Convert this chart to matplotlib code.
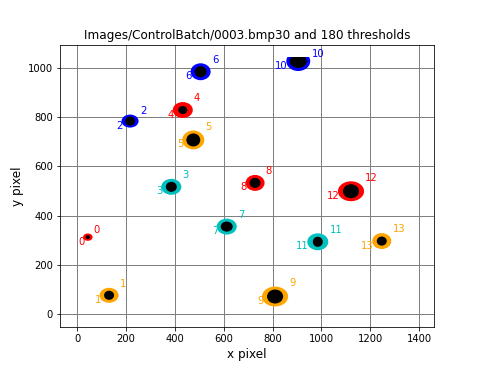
import matplotlib
matplotlib.use("Agg")
import matplotlib.pyplot as plt
from matplotlib.patches import Ellipse, Rectangle

# Blob data (data units: image pixels)
blob_ids = [0, 1, 2, 3, 4, 5, 6, 7, 8, 9, 10, 11, 12, 13]
center_x = [43, 130, 216, 385, 432, 475, 505, 612, 728, 810, 905, 985, 1121, 1247]
center_y = [312, 75, 785, 517, 830, 708, 986, 355, 533, 70, 1029, 293, 499, 296]
outer_w = [39, 78, 70, 82, 82, 90, 82, 82, 78, 107, 98, 86, 107, 78]
outer_h = [30, 61, 53, 65, 65, 77, 69, 65, 65, 81, 80, 69, 81, 65]
inner_w = [18, 41, 41, 45, 37, 57, 49, 49, 45, 66, 70, 41, 66, 41]
inner_h = [16, 37, 37, 41, 33, 53, 45, 41, 41, 57, 55, 41, 57, 37]
image_top = 1045
palette = ['red', 'orange', 'blue', 'c']

title = "Images/ControlBatch/0003.bmp30 and 180 thresholds"
x_ticks = [0, 200, 400, 600, 800, 1000, 1200, 1400]
y_ticks = [0, 200, 400, 600, 800, 1000]

W, H = 482, 374
fig = plt.figure(figsize=(W / 72, H / 72), dpi=72)
ax = fig.add_axes([60 / W, (H - 326.7) / H, (434 - 60) / W, (326.7 - 45) / H])

clip = Rectangle((-1000, -1000), 4000, image_top + 1000, transform=ax.transData)

for i, b in enumerate(blob_ids):
    col = palette[i % len(palette)]
    e1 = Ellipse((center_x[i], center_y[i]), outer_w[i], outer_h[i], color=col, lw=0, zorder=3)
    ax.add_patch(e1)
    e1.set_clip_path(clip)
    e2 = Ellipse((center_x[i], center_y[i]), inner_w[i], inner_h[i], color='black', lw=0, zorder=4)
    ax.add_patch(e2)
    e2.set_clip_path(clip)
    top = min(center_y[i] + outer_h[i] / 2, image_top)
    ax.text(center_x[i] + outer_w[i] / 2 + 5, top + 3, str(b), color=col,
            ha='left', va='baseline', fontsize=10, zorder=5)
    ax.text(center_x[i] - outer_w[i] / 2 + 6, center_y[i] + 2, str(b), color=col,
            ha='right', va='top', fontsize=10, zorder=5)

ax.set_xlim(-71, 1461)
ax.set_ylim(-53, 1095)
ax.set_xticks(x_ticks)
ax.set_yticks(y_ticks)
ax.tick_params(labelsize=10)
ax.grid(True, color='#808080', linewidth=1)
ax.set_axisbelow(True)
ax.set_title(title, fontsize=12)
ax.set_xlabel("x pixel", fontsize=12)
ax.set_ylabel("y pixel", fontsize=12)

fig.savefig("out.png", dpi=72)
